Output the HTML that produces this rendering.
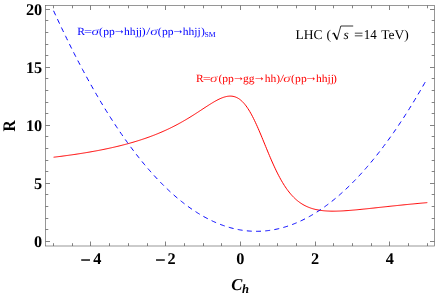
<!DOCTYPE html>
<html><head><meta charset="utf-8"><style>
html,body{margin:0;padding:0;background:#fff;}
svg{display:block;font-family:"Liberation Serif",serif;text-rendering:geometricPrecision;will-change:transform;}
</style></head><body>
<svg width="436" height="293" viewBox="0 0 436 293">
<rect width="436" height="293" fill="#fff"/>
<path d="M53.60,157.22 L54.53,157.11 L55.47,157.00 L56.40,156.88 L57.34,156.77 L58.27,156.65 L59.21,156.53 L60.14,156.42 L61.07,156.30 L62.01,156.18 L62.94,156.05 L63.88,155.93 L64.81,155.81 L65.75,155.68 L66.68,155.56 L67.61,155.43 L68.55,155.30 L69.48,155.17 L70.42,155.04 L71.35,154.91 L72.28,154.77 L73.22,154.64 L74.15,154.50 L75.09,154.36 L76.02,154.23 L76.96,154.09 L77.89,153.94 L78.82,153.80 L79.76,153.66 L80.69,153.51 L81.63,153.36 L82.56,153.22 L83.50,153.06 L84.43,152.91 L85.36,152.76 L86.30,152.60 L87.23,152.45 L88.17,152.29 L89.10,152.13 L90.04,151.97 L90.97,151.81 L91.90,151.64 L92.84,151.48 L93.77,151.31 L94.71,151.14 L95.64,150.97 L96.58,150.79 L97.51,150.62 L98.44,150.44 L99.38,150.26 L100.31,150.08 L101.25,149.90 L102.18,149.71 L103.12,149.52 L104.05,149.33 L104.98,149.14 L105.92,148.95 L106.85,148.75 L107.79,148.56 L108.72,148.36 L109.66,148.15 L110.59,147.95 L111.52,147.74 L112.46,147.53 L113.39,147.32 L114.33,147.11 L115.26,146.89 L116.19,146.67 L117.13,146.45 L118.06,146.23 L119.00,146.00 L119.93,145.77 L120.87,145.54 L121.80,145.30 L122.73,145.06 L123.67,144.82 L124.60,144.58 L125.54,144.33 L126.47,144.08 L127.41,143.83 L128.34,143.58 L129.27,143.32 L130.21,143.06 L131.14,142.79 L132.08,142.52 L133.01,142.25 L133.95,141.98 L134.88,141.70 L135.81,141.42 L136.75,141.13 L137.68,140.84 L138.62,140.55 L139.55,140.25 L140.49,139.95 L141.42,139.65 L142.35,139.34 L143.29,139.03 L144.22,138.72 L145.16,138.40 L146.09,138.07 L147.02,137.75 L147.96,137.41 L148.89,137.08 L149.83,136.74 L150.76,136.39 L151.70,136.04 L152.63,135.69 L153.56,135.33 L154.50,134.97 L155.43,134.60 L156.37,134.23 L157.30,133.85 L158.24,133.46 L159.17,133.08 L160.10,132.68 L161.04,132.29 L161.97,131.88 L162.91,131.48 L163.84,131.06 L164.78,130.64 L165.71,130.22 L166.64,129.79 L167.58,129.35 L168.51,128.91 L169.45,128.47 L170.38,128.01 L171.32,127.56 L172.25,127.09 L173.18,126.62 L174.12,126.15 L175.05,125.67 L175.99,125.18 L176.92,124.69 L177.86,124.19 L178.79,123.68 L179.72,123.17 L180.66,122.66 L181.59,122.14 L182.53,121.61 L183.46,121.07 L184.39,120.53 L185.33,119.99 L186.26,119.44 L187.20,118.88 L188.13,118.32 L189.07,117.75 L190.00,117.18 L190.93,116.60 L191.87,116.02 L192.80,115.44 L193.74,114.85 L194.67,114.25 L195.61,113.65 L196.54,113.05 L197.47,112.45 L198.41,111.84 L199.34,111.23 L200.28,110.62 L201.21,110.01 L202.15,109.39 L203.08,108.78 L204.01,108.17 L204.95,107.55 L205.88,106.94 L206.82,106.34 L207.75,105.73 L208.69,105.14 L209.62,104.54 L210.55,103.96 L211.49,103.38 L212.42,102.81 L213.36,102.25 L214.29,101.71 L215.23,101.17 L216.16,100.66 L217.09,100.15 L218.03,99.67 L218.96,99.21 L219.90,98.77 L220.83,98.36 L221.76,97.97 L222.70,97.61 L223.63,97.29 L224.57,96.99 L225.50,96.74 L226.44,96.52 L227.37,96.34 L228.30,96.22 L229.24,96.13 L230.17,96.10 L231.11,96.12 L232.04,96.20 L232.98,96.34 L233.91,96.54 L234.84,96.80 L235.78,97.13 L236.71,97.54 L237.65,98.01 L238.58,98.56 L239.52,99.19 L240.45,99.90 L241.38,100.69 L242.32,101.56 L243.25,102.52 L244.19,103.56 L245.12,104.68 L246.06,105.89 L246.99,107.19 L247.92,108.57 L248.86,110.03 L249.79,111.57 L250.73,113.19 L251.66,114.88 L252.60,116.65 L253.53,118.49 L254.46,120.39 L255.40,122.36 L256.33,124.38 L257.27,126.45 L258.20,128.57 L259.13,130.73 L260.07,132.92 L261.00,135.14 L261.94,137.39 L262.87,139.65 L263.81,141.93 L264.74,144.21 L265.67,146.49 L266.61,148.76 L267.54,151.02 L268.48,153.27 L269.41,155.49 L270.35,157.69 L271.28,159.86 L272.21,162.00 L273.15,164.09 L274.08,166.15 L275.02,168.16 L275.95,170.12 L276.89,172.04 L277.82,173.91 L278.75,175.72 L279.69,177.48 L280.62,179.18 L281.56,180.83 L282.49,182.42 L283.43,183.96 L284.36,185.44 L285.29,186.87 L286.23,188.24 L287.16,189.55 L288.10,190.81 L289.03,192.02 L289.97,193.18 L290.90,194.28 L291.83,195.34 L292.77,196.34 L293.70,197.30 L294.64,198.21 L295.57,199.08 L296.50,199.91 L297.44,200.69 L298.37,201.43 L299.31,202.13 L300.24,202.80 L301.18,203.43 L302.11,204.02 L303.04,204.58 L303.98,205.11 L304.91,205.60 L305.85,206.07 L306.78,206.51 L307.72,206.92 L308.65,207.31 L309.58,207.67 L310.52,208.00 L311.45,208.32 L312.39,208.61 L313.32,208.88 L314.26,209.13 L315.19,209.36 L316.12,209.58 L317.06,209.77 L317.99,209.95 L318.93,210.12 L319.86,210.27 L320.80,210.40 L321.73,210.53 L322.66,210.64 L323.60,210.74 L324.53,210.82 L325.47,210.90 L326.40,210.96 L327.34,211.02 L328.27,211.06 L329.20,211.10 L330.14,211.13 L331.07,211.15 L332.01,211.16 L332.94,211.17 L333.88,211.17 L334.81,211.16 L335.74,211.15 L336.68,211.13 L337.61,211.10 L338.55,211.07 L339.48,211.04 L340.41,211.00 L341.35,210.96 L342.28,210.91 L343.22,210.86 L344.15,210.80 L345.09,210.74 L346.02,210.68 L346.95,210.61 L347.89,210.55 L348.82,210.48 L349.76,210.40 L350.69,210.33 L351.63,210.25 L352.56,210.17 L353.49,210.09 L354.43,210.00 L355.36,209.92 L356.30,209.83 L357.23,209.74 L358.17,209.65 L359.10,209.56 L360.03,209.47 L360.97,209.38 L361.90,209.28 L362.84,209.19 L363.77,209.09 L364.71,209.00 L365.64,208.90 L366.57,208.80 L367.51,208.70 L368.44,208.60 L369.38,208.50 L370.31,208.40 L371.25,208.30 L372.18,208.20 L373.11,208.10 L374.05,208.00 L374.98,207.90 L375.92,207.80 L376.85,207.70 L377.78,207.59 L378.72,207.49 L379.65,207.39 L380.59,207.29 L381.52,207.19 L382.46,207.09 L383.39,206.98 L384.32,206.88 L385.26,206.78 L386.19,206.68 L387.13,206.58 L388.06,206.48 L389.00,206.38 L389.93,206.28 L390.86,206.18 L391.80,206.08 L392.73,205.98 L393.67,205.89 L394.60,205.79 L395.54,205.69 L396.47,205.59 L397.40,205.50 L398.34,205.40 L399.27,205.30 L400.21,205.21 L401.14,205.11 L402.08,205.02 L403.01,204.92 L403.94,204.83 L404.88,204.73 L405.81,204.64 L406.75,204.55 L407.68,204.46 L408.62,204.36 L409.55,204.27 L410.48,204.18 L411.42,204.09 L412.35,204.00 L413.29,203.91 L414.22,203.82 L415.15,203.73 L416.09,203.65 L417.02,203.56 L417.96,203.47 L418.89,203.38 L419.83,203.30 L420.76,203.21 L421.69,203.13 L422.63,203.04 L423.56,202.96 L424.50,202.87 L425.43,202.79 L426.37,202.71 L427.30,202.62" fill="none" stroke="#ff0000" stroke-width="1"/>
<path d="M53.60,10.79 L54.53,12.83 L55.47,14.86 L56.40,16.88 L57.34,18.89 L58.27,20.89 L59.21,22.88 L60.14,24.87 L61.07,26.84 L62.01,28.80 L62.94,30.76 L63.88,32.70 L64.81,34.63 L65.75,36.56 L66.68,38.47 L67.61,40.38 L68.55,42.27 L69.48,44.16 L70.42,46.04 L71.35,47.90 L72.28,49.76 L73.22,51.61 L74.15,53.45 L75.09,55.28 L76.02,57.10 L76.96,58.91 L77.89,60.71 L78.82,62.50 L79.76,64.28 L80.69,66.05 L81.63,67.81 L82.56,69.56 L83.50,71.31 L84.43,73.04 L85.36,74.76 L86.30,76.48 L87.23,78.18 L88.17,79.88 L89.10,81.56 L90.04,83.24 L90.97,84.91 L91.90,86.56 L92.84,88.21 L93.77,89.85 L94.71,91.48 L95.64,93.10 L96.58,94.71 L97.51,96.31 L98.44,97.90 L99.38,99.48 L100.31,101.05 L101.25,102.61 L102.18,104.16 L103.12,105.71 L104.05,107.24 L104.98,108.76 L105.92,110.28 L106.85,111.78 L107.79,113.28 L108.72,114.76 L109.66,116.24 L110.59,117.71 L111.52,119.16 L112.46,120.61 L113.39,122.05 L114.33,123.48 L115.26,124.90 L116.19,126.31 L117.13,127.71 L118.06,129.10 L119.00,130.48 L119.93,131.85 L120.87,133.22 L121.80,134.57 L122.73,135.91 L123.67,137.25 L124.60,138.57 L125.54,139.89 L126.47,141.19 L127.41,142.49 L128.34,143.78 L129.27,145.05 L130.21,146.32 L131.14,147.58 L132.08,148.83 L133.01,150.07 L133.95,151.30 L134.88,152.52 L135.81,153.73 L136.75,154.93 L137.68,156.12 L138.62,157.31 L139.55,158.48 L140.49,159.64 L141.42,160.80 L142.35,161.94 L143.29,163.08 L144.22,164.21 L145.16,165.32 L146.09,166.43 L147.02,167.53 L147.96,168.62 L148.89,169.69 L149.83,170.76 L150.76,171.82 L151.70,172.87 L152.63,173.92 L153.56,174.95 L154.50,175.97 L155.43,176.98 L156.37,177.99 L157.30,178.98 L158.24,179.97 L159.17,180.94 L160.10,181.91 L161.04,182.86 L161.97,183.81 L162.91,184.75 L163.84,185.68 L164.78,186.60 L165.71,187.51 L166.64,188.41 L167.58,189.30 L168.51,190.18 L169.45,191.05 L170.38,191.91 L171.32,192.77 L172.25,193.61 L173.18,194.44 L174.12,195.27 L175.05,196.08 L175.99,196.89 L176.92,197.69 L177.86,198.47 L178.79,199.25 L179.72,200.02 L180.66,200.78 L181.59,201.53 L182.53,202.27 L183.46,203.00 L184.39,203.72 L185.33,204.44 L186.26,205.14 L187.20,205.83 L188.13,206.52 L189.07,207.19 L190.00,207.86 L190.93,208.52 L191.87,209.16 L192.80,209.80 L193.74,210.43 L194.67,211.05 L195.61,211.66 L196.54,212.26 L197.47,212.85 L198.41,213.43 L199.34,214.00 L200.28,214.57 L201.21,215.12 L202.15,215.66 L203.08,216.20 L204.01,216.72 L204.95,217.24 L205.88,217.75 L206.82,218.24 L207.75,218.73 L208.69,219.21 L209.62,219.68 L210.55,220.14 L211.49,220.59 L212.42,221.03 L213.36,221.47 L214.29,221.89 L215.23,222.30 L216.16,222.71 L217.09,223.10 L218.03,223.49 L218.96,223.86 L219.90,224.23 L220.83,224.59 L221.76,224.94 L222.70,225.28 L223.63,225.61 L224.57,225.93 L225.50,226.24 L226.44,226.54 L227.37,226.83 L228.30,227.12 L229.24,227.39 L230.17,227.66 L231.11,227.91 L232.04,228.16 L232.98,228.39 L233.91,228.62 L234.84,228.84 L235.78,229.05 L236.71,229.25 L237.65,229.44 L238.58,229.62 L239.52,229.79 L240.45,229.96 L241.38,230.11 L242.32,230.25 L243.25,230.39 L244.19,230.51 L245.12,230.63 L246.06,230.74 L246.99,230.84 L247.92,230.93 L248.86,231.00 L249.79,231.07 L250.73,231.14 L251.66,231.19 L252.60,231.23 L253.53,231.26 L254.46,231.29 L255.40,231.30 L256.33,231.31 L257.27,231.30 L258.20,231.29 L259.13,231.27 L260.07,231.24 L261.00,231.20 L261.94,231.15 L262.87,231.09 L263.81,231.02 L264.74,230.94 L265.67,230.85 L266.61,230.76 L267.54,230.65 L268.48,230.54 L269.41,230.41 L270.35,230.28 L271.28,230.14 L272.21,229.99 L273.15,229.83 L274.08,229.66 L275.02,229.48 L275.95,229.29 L276.89,229.09 L277.82,228.89 L278.75,228.67 L279.69,228.44 L280.62,228.21 L281.56,227.97 L282.49,227.71 L283.43,227.45 L284.36,227.18 L285.29,226.90 L286.23,226.61 L287.16,226.31 L288.10,226.00 L289.03,225.69 L289.97,225.36 L290.90,225.03 L291.83,224.68 L292.77,224.33 L293.70,223.97 L294.64,223.59 L295.57,223.21 L296.50,222.82 L297.44,222.42 L298.37,222.01 L299.31,221.59 L300.24,221.17 L301.18,220.73 L302.11,220.29 L303.04,219.83 L303.98,219.37 L304.91,218.89 L305.85,218.41 L306.78,217.92 L307.72,217.42 L308.65,216.91 L309.58,216.39 L310.52,215.86 L311.45,215.33 L312.39,214.78 L313.32,214.23 L314.26,213.66 L315.19,213.09 L316.12,212.51 L317.06,211.91 L317.99,211.31 L318.93,210.70 L319.86,210.08 L320.80,209.46 L321.73,208.82 L322.66,208.17 L323.60,207.52 L324.53,206.85 L325.47,206.18 L326.40,205.49 L327.34,204.80 L328.27,204.10 L329.20,203.39 L330.14,202.67 L331.07,201.94 L332.01,201.20 L332.94,200.46 L333.87,199.70 L334.81,198.94 L335.74,198.16 L336.68,197.38 L337.61,196.58 L338.55,195.78 L339.48,194.97 L340.41,194.15 L341.35,193.32 L342.28,192.49 L343.22,191.64 L344.15,190.78 L345.09,189.92 L346.02,189.04 L346.95,188.16 L347.89,187.27 L348.82,186.37 L349.76,185.46 L350.69,184.54 L351.63,183.61 L352.56,182.67 L353.49,181.72 L354.43,180.77 L355.36,179.80 L356.30,178.83 L357.23,177.84 L358.17,176.85 L359.10,175.85 L360.03,174.84 L360.97,173.82 L361.90,172.79 L362.84,171.75 L363.77,170.71 L364.71,169.65 L365.64,168.59 L366.57,167.51 L367.51,166.43 L368.44,165.34 L369.38,164.24 L370.31,163.13 L371.25,162.01 L372.18,160.88 L373.11,159.74 L374.05,158.60 L374.98,157.44 L375.92,156.28 L376.85,155.10 L377.78,153.92 L378.72,152.73 L379.65,151.53 L380.59,150.32 L381.52,149.10 L382.46,147.88 L383.39,146.64 L384.32,145.39 L385.26,144.14 L386.19,142.88 L387.13,141.60 L388.06,140.32 L389.00,139.03 L389.93,137.73 L390.86,136.42 L391.80,135.11 L392.73,133.78 L393.67,132.44 L394.60,131.10 L395.54,129.74 L396.47,128.38 L397.40,127.01 L398.34,125.63 L399.27,124.24 L400.21,122.84 L401.14,121.43 L402.08,120.02 L403.01,118.59 L403.94,117.16 L404.88,115.71 L405.81,114.26 L406.75,112.80 L407.68,111.33 L408.62,109.85 L409.55,108.36 L410.48,106.86 L411.42,105.36 L412.35,103.84 L413.29,102.32 L414.22,100.79 L415.15,99.24 L416.09,97.69 L417.02,96.13 L417.96,94.56 L418.89,92.98 L419.83,91.40 L420.76,89.80 L421.69,88.20 L422.63,86.58 L423.56,84.96 L424.50,83.33 L425.43,81.69 L426.37,80.04" fill="none" stroke="#0000ff" stroke-width="1" stroke-dasharray="4.95 4.265"/>
<rect x="45.5" y="5.5" width="389.0" height="240.5" fill="none" stroke="#666" stroke-width="0.68"/>
<path d="M53.50,246.0 v-2.8 M53.50,5.5 v2.8 M72.50,246.0 v-2.8 M72.50,5.5 v2.8 M90.50,246.0 v-4.5 M90.50,5.5 v4.5 M109.50,246.0 v-2.8 M109.50,5.5 v2.8 M128.50,246.0 v-2.8 M128.50,5.5 v2.8 M147.50,246.0 v-2.8 M147.50,5.5 v2.8 M165.50,246.0 v-4.5 M165.50,5.5 v4.5 M184.50,246.0 v-2.8 M184.50,5.5 v2.8 M203.50,246.0 v-2.8 M203.50,5.5 v2.8 M221.50,246.0 v-2.8 M221.50,5.5 v2.8 M240.50,246.0 v-4.5 M240.50,5.5 v4.5 M259.50,246.0 v-2.8 M259.50,5.5 v2.8 M277.50,246.0 v-2.8 M277.50,5.5 v2.8 M296.50,246.0 v-2.8 M296.50,5.5 v2.8 M315.50,246.0 v-4.5 M315.50,5.5 v4.5 M333.50,246.0 v-2.8 M333.50,5.5 v2.8 M352.50,246.0 v-2.8 M352.50,5.5 v2.8 M371.50,246.0 v-2.8 M371.50,5.5 v2.8 M389.50,246.0 v-4.5 M389.50,5.5 v4.5 M408.50,246.0 v-2.8 M408.50,5.5 v2.8 M427.50,246.0 v-2.8 M427.50,5.5 v2.8 M45.5,241.50 h4.5 M434.5,241.50 h-4.5 M45.5,229.50 h2.8 M434.5,229.50 h-2.8 M45.5,218.50 h2.8 M434.5,218.50 h-2.8 M45.5,206.50 h2.8 M434.5,206.50 h-2.8 M45.5,194.50 h2.8 M434.5,194.50 h-2.8 M45.5,183.50 h4.5 M434.5,183.50 h-4.5 M45.5,171.50 h2.8 M434.5,171.50 h-2.8 M45.5,160.50 h2.8 M434.5,160.50 h-2.8 M45.5,148.50 h2.8 M434.5,148.50 h-2.8 M45.5,136.50 h2.8 M434.5,136.50 h-2.8 M45.5,125.50 h4.5 M434.5,125.50 h-4.5 M45.5,113.50 h2.8 M434.5,113.50 h-2.8 M45.5,102.50 h2.8 M434.5,102.50 h-2.8 M45.5,90.50 h2.8 M434.5,90.50 h-2.8 M45.5,78.50 h2.8 M434.5,78.50 h-2.8 M45.5,67.50 h4.5 M434.5,67.50 h-4.5 M45.5,55.50 h2.8 M434.5,55.50 h-2.8 M45.5,44.50 h2.8 M434.5,44.50 h-2.8 M45.5,32.50 h2.8 M434.5,32.50 h-2.8 M45.5,20.50 h2.8 M434.5,20.50 h-2.8 M45.5,9.50 h4.5 M434.5,9.50 h-4.5" fill="none" stroke="#666" stroke-width="0.82"/>
<g font-weight="bold" font-size="16.3px" fill="#000">
<text x="80.57" y="265.8" font-size="18px" stroke="#000" stroke-width="0.3">−</text>
<text x="93.20" y="263.8">4</text>
<text x="155.31" y="265.8" font-size="18px" stroke="#000" stroke-width="0.3">−</text>
<text x="167.48" y="263.8">2</text>
<text x="240.25" y="263.8" text-anchor="middle">0</text>
<text x="314.99" y="263.8" text-anchor="middle">2</text>
<text x="389.73" y="263.8" text-anchor="middle">4</text>
<text x="42.2" y="246.85" text-anchor="end">0</text>
<text x="42.2" y="188.82" text-anchor="end">5</text>
<text x="42.2" y="130.80" text-anchor="end">10</text>
<text x="42.2" y="72.77" text-anchor="end">15</text>
<text x="42.2" y="14.75" text-anchor="end">20</text>
<text transform="translate(15.0,125.8) rotate(-90) scale(1,1.14)" text-anchor="middle" font-size="15.5px">R</text>
<text x="231.2" y="290" font-style="italic" font-size="16.6px">C</text>
<text x="242.1" y="293.2" font-style="italic" font-size="12.6px">h</text>
</g>
<g font-size="11.0px" fill="#0000ff">
<text transform="translate(77.27,34.70) scale(1.05,1)">R</text>
<text transform="translate(84.09,34.70) scale(1.3,1)">=</text>
<text transform="translate(91.55,34.70) scale(1.3,1)" font-style="italic" font-size="11.6px" stroke="#fff" stroke-width="0.14">σ</text>
<text transform="translate(99.09,34.70) scale(1.05,1)">(</text>
<text transform="translate(103.31,34.70) scale(1.05,1)">pp</text>
<text transform="translate(112.75,33.76) scale(1,1)" font-size="13.0px">→</text>
<text transform="translate(124.09,34.70) scale(1.05,1)">hhjj</text>
<text transform="translate(141.63,34.70) scale(1.05,1)">)</text>
<text transform="translate(146.20,34.70) scale(1.3,1)">/</text>
<text transform="translate(150.25,34.70) scale(1.3,1)" font-style="italic" font-size="11.6px" stroke="#fff" stroke-width="0.14">σ</text>
<text transform="translate(157.79,34.70) scale(1.05,1)">(</text>
<text transform="translate(162.01,34.70) scale(1.05,1)">pp</text>
<text transform="translate(171.45,33.76) scale(1,1)" font-size="13.0px">→</text>
<text transform="translate(182.79,34.70) scale(1.05,1)">hhjj</text>
<text transform="translate(201.03,34.70) scale(1.05,1)">)</text>
<text x="204.40" y="36.9" font-size="7.7px">SM</text>
</g>
<g font-size="11.0px" fill="#ff0000">
<text transform="translate(195.97,81.60) scale(1.05,1)">R</text>
<text transform="translate(202.69,81.60) scale(1.3,1)">=</text>
<text transform="translate(210.05,81.60) scale(1.3,1)" font-style="italic" font-size="11.6px" stroke="#fff" stroke-width="0.14">σ</text>
<text transform="translate(218.59,81.60) scale(1.05,1)">(</text>
<text transform="translate(222.21,81.60) scale(1.05,1)">pp</text>
<text transform="translate(231.95,80.66) scale(1,1)" font-size="13.0px">→</text>
<text transform="translate(243.00,81.60) scale(1.05,1)">gg</text>
<text transform="translate(252.85,80.66) scale(1,1)" font-size="13.0px">→</text>
<text transform="translate(264.69,81.60) scale(1.05,1)">hh</text>
<text transform="translate(276.33,81.60) scale(1.05,1)">)</text>
<text transform="translate(279.90,81.60) scale(1.3,1)">/</text>
<text transform="translate(283.35,81.60) scale(1.3,1)" font-style="italic" font-size="11.6px" stroke="#fff" stroke-width="0.14">σ</text>
<text transform="translate(290.89,81.60) scale(1.05,1)">(</text>
<text transform="translate(295.11,81.60) scale(1.05,1)">pp</text>
<text transform="translate(304.55,80.66) scale(1,1)" font-size="13.0px">→</text>
<text transform="translate(315.89,81.60) scale(1.05,1)">hhjj</text>
<text transform="translate(333.03,81.60) scale(1.05,1)">)</text>
</g>
<g font-size="13.5px" fill="#000">
<text x="295.4" y="39.1" textLength="27" lengthAdjust="spacingAndGlyphs">LHC</text>
<text x="326.5" y="39.1">(</text>
<path d="M332.2,34 L333.9,32.9 L337,39.6 L340.8,26 L353.2,26" fill="none" stroke="#000" stroke-width="0.8"/>
<path d="M333.8,33 L336.9,39.4" fill="none" stroke="#000" stroke-width="1.4"/>
<text x="343.5" y="39.1" font-style="italic">s</text>
<text transform="translate(354.1,39.3) scale(1.22,1)">=</text>
<text x="363.8" y="39.1" textLength="13" lengthAdjust="spacingAndGlyphs">14</text>
<text x="381.2" y="39.1" textLength="23" lengthAdjust="spacingAndGlyphs">TeV</text>
<text x="404.2" y="39.1">)</text>
</g>
</svg>
</body></html>
